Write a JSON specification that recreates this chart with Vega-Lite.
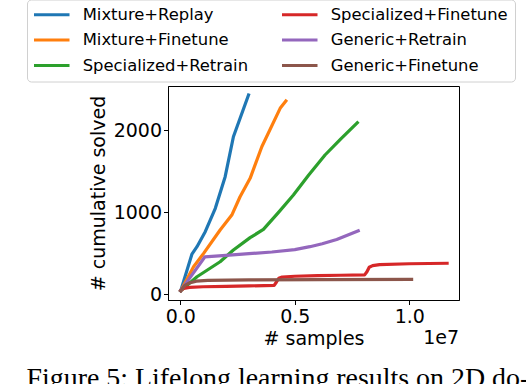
{
  "$schema": "https://vega.github.io/schema/vega-lite/v6.json",
  "width": 291,
  "height": 214,
  "autosize": {"type": "none"},
  "padding": {"left": 168, "top": 86, "right": 67, "bottom": 84},
  "background": "white",
  "config": {
    "view": {"stroke": "black", "strokeWidth": 1},
    "font": "DejaVu Sans",
    "axis": {
      "grid": false,
      "domainColor": "black",
      "tickColor": "black",
      "tickSize": 4.5,
      "tickWidth": 1,
      "labelFont": "DejaVu Sans",
      "labelFontSize": 19,
      "labelColor": "black",
      "titleFont": "DejaVu Sans",
      "titleFontSize": 19,
      "titleFontWeight": "normal",
      "titleColor": "black",
      "labelFlush": false,
      "labelOverlap": false
    }
  },
  "title": {
    "text": "Figure 5: Lifelong learning results on 2D do-",
    "orient": "bottom",
    "anchor": "start",
    "frame": "bounds",
    "font": "Liberation Serif",
    "fontSize": 27.9,
    "fontWeight": "normal",
    "color": "black",
    "offset": 16
  },
  "layer": [
    {
      "data": {
        "values": [
          {"method": "Mixture+Replay", "samples": 20000, "solved": 45},
          {"method": "Mixture+Replay", "samples": 510000, "solved": 490},
          {"method": "Mixture+Replay", "samples": 730000, "solved": 580},
          {"method": "Mixture+Replay", "samples": 1090000, "solved": 762},
          {"method": "Mixture+Replay", "samples": 1530000, "solved": 1047},
          {"method": "Mixture+Replay", "samples": 1960000, "solved": 1432},
          {"method": "Mixture+Replay", "samples": 2320000, "solved": 1918},
          {"method": "Mixture+Replay", "samples": 2980000, "solved": 2426},

          {"method": "Mixture+Finetune", "samples": 20000, "solved": 45},
          {"method": "Mixture+Finetune", "samples": 580000, "solved": 336},
          {"method": "Mixture+Finetune", "samples": 1020000, "solved": 499},
          {"method": "Mixture+Finetune", "samples": 1740000, "solved": 783},
          {"method": "Mixture+Finetune", "samples": 2250000, "solved": 965},
          {"method": "Mixture+Finetune", "samples": 2610000, "solved": 1188},
          {"method": "Mixture+Finetune", "samples": 3050000, "solved": 1412},
          {"method": "Mixture+Finetune", "samples": 3560000, "solved": 1797},
          {"method": "Mixture+Finetune", "samples": 4360000, "solved": 2264},
          {"method": "Mixture+Finetune", "samples": 4610000, "solved": 2353},

          {"method": "Specialized+Retrain", "samples": 20000, "solved": 45},
          {"method": "Specialized+Retrain", "samples": 730000, "solved": 214},
          {"method": "Specialized+Retrain", "samples": 1740000, "solved": 397},
          {"method": "Specialized+Retrain", "samples": 2320000, "solved": 539},
          {"method": "Specialized+Retrain", "samples": 3050000, "solved": 690},
          {"method": "Specialized+Retrain", "samples": 3630000, "solved": 790},
          {"method": "Specialized+Retrain", "samples": 4300000, "solved": 1000},
          {"method": "Specialized+Retrain", "samples": 4940000, "solved": 1209},
          {"method": "Specialized+Retrain", "samples": 5600000, "solved": 1450},
          {"method": "Specialized+Retrain", "samples": 6320000, "solved": 1696},
          {"method": "Specialized+Retrain", "samples": 7000000, "solved": 1890},
          {"method": "Specialized+Retrain", "samples": 7730000, "solved": 2089},

          {"method": "Specialized+Finetune", "samples": 20000, "solved": 45},
          {"method": "Specialized+Finetune", "samples": 150000, "solved": 72},
          {"method": "Specialized+Finetune", "samples": 400000, "solved": 85},
          {"method": "Specialized+Finetune", "samples": 1000000, "solved": 92},
          {"method": "Specialized+Finetune", "samples": 2000000, "solved": 98},
          {"method": "Specialized+Finetune", "samples": 3000000, "solved": 103},
          {"method": "Specialized+Finetune", "samples": 4100000, "solved": 108},
          {"method": "Specialized+Finetune", "samples": 4200000, "solved": 150},
          {"method": "Specialized+Finetune", "samples": 4300000, "solved": 195},
          {"method": "Specialized+Finetune", "samples": 4450000, "solved": 210},
          {"method": "Specialized+Finetune", "samples": 5000000, "solved": 220},
          {"method": "Specialized+Finetune", "samples": 6000000, "solved": 228},
          {"method": "Specialized+Finetune", "samples": 7000000, "solved": 232},
          {"method": "Specialized+Finetune", "samples": 8050000, "solved": 237},
          {"method": "Specialized+Finetune", "samples": 8150000, "solved": 275},
          {"method": "Specialized+Finetune", "samples": 8250000, "solved": 330},
          {"method": "Specialized+Finetune", "samples": 8400000, "solved": 350},
          {"method": "Specialized+Finetune", "samples": 8700000, "solved": 362},
          {"method": "Specialized+Finetune", "samples": 10000000, "solved": 372},
          {"method": "Specialized+Finetune", "samples": 11650000, "solved": 378},

          {"method": "Generic+Retrain", "samples": 20000, "solved": 45},
          {"method": "Generic+Retrain", "samples": 1070000, "solved": 455},
          {"method": "Generic+Retrain", "samples": 2000000, "solved": 475},
          {"method": "Generic+Retrain", "samples": 3000000, "solved": 495},
          {"method": "Generic+Retrain", "samples": 4000000, "solved": 515},
          {"method": "Generic+Retrain", "samples": 5000000, "solved": 545},
          {"method": "Generic+Retrain", "samples": 5660000, "solved": 580},
          {"method": "Generic+Retrain", "samples": 6200000, "solved": 615},
          {"method": "Generic+Retrain", "samples": 6830000, "solved": 668},
          {"method": "Generic+Retrain", "samples": 7770000, "solved": 774},

          {"method": "Generic+Finetune", "samples": 20000, "solved": 45},
          {"method": "Generic+Finetune", "samples": 200000, "solved": 110},
          {"method": "Generic+Finetune", "samples": 400000, "solved": 140},
          {"method": "Generic+Finetune", "samples": 700000, "solved": 160},
          {"method": "Generic+Finetune", "samples": 1200000, "solved": 170},
          {"method": "Generic+Finetune", "samples": 3000000, "solved": 176},
          {"method": "Generic+Finetune", "samples": 6000000, "solved": 180},
          {"method": "Generic+Finetune", "samples": 10100000, "solved": 183}
        ]
      },
      "mark": {"type": "line", "strokeWidth": 3.2, "strokeCap": "square", "strokeJoin": "round"},
      "encoding": {
        "x": {
          "field": "samples",
          "type": "quantitative",
          "scale": {"domain": [-536000, 12170000], "nice": false, "zero": false},
          "axis": {
            "values": [0, 5000000, 10000000],
            "labelExpr": "format(datum.value / 10000000, '.1f')",
            "title": "# samples",
            "labelPadding": 3,
            "titlePadding": 3
          }
        },
        "y": {
          "field": "solved",
          "type": "quantitative",
          "scale": {"domain": [-69, 2536], "nice": false, "zero": false},
          "axis": {
            "values": [0, 1000, 2000],
            "format": "d",
            "title": "# cumulative solved",
            "labelPadding": 2,
            "titlePadding": 5
          }
        },
        "color": {
          "field": "method",
          "type": "nominal",
          "scale": {
            "domain": ["Mixture+Replay", "Mixture+Finetune", "Specialized+Retrain", "Specialized+Finetune", "Generic+Retrain", "Generic+Finetune"],
            "range": ["#1f77b4", "#ff7f0e", "#2ca02c", "#d62728", "#9467bd", "#8c564b"]
          },
          "legend": {
            "title": null,
            "orient": "none",
            "legendX": -141,
            "legendY": -86.5,
            "columns": 2,
            "symbolType": "stroke",
            "symbolSize": 1296,
            "symbolStrokeWidth": 3,
            "symbolOffset": -2,
            "clipHeight": 16,
            "labelFont": "DejaVu Sans",
            "labelFontSize": 16.4,
            "labelColor": "black",
            "labelOffset": 11.7,
            "labelLimit": 400,
            "rowPadding": 8.5,
            "columnPadding": 33,
            "padding": 7,
            "strokeColor": "#d0d0d0",
            "fillColor": "white",
            "cornerRadius": 4
          }
        }
      }
    },
    {
      "data": {"values": [{"label": "1e7"}]},
      "mark": {"type": "text", "align": "right", "baseline": "alphabetic", "font": "DejaVu Sans", "fontSize": 19, "color": "black"},
      "encoding": {
        "x": {"datum": 12170000},
        "y": {"datum": -599},
        "text": {"field": "label"}
      }
    }
  ]
}
